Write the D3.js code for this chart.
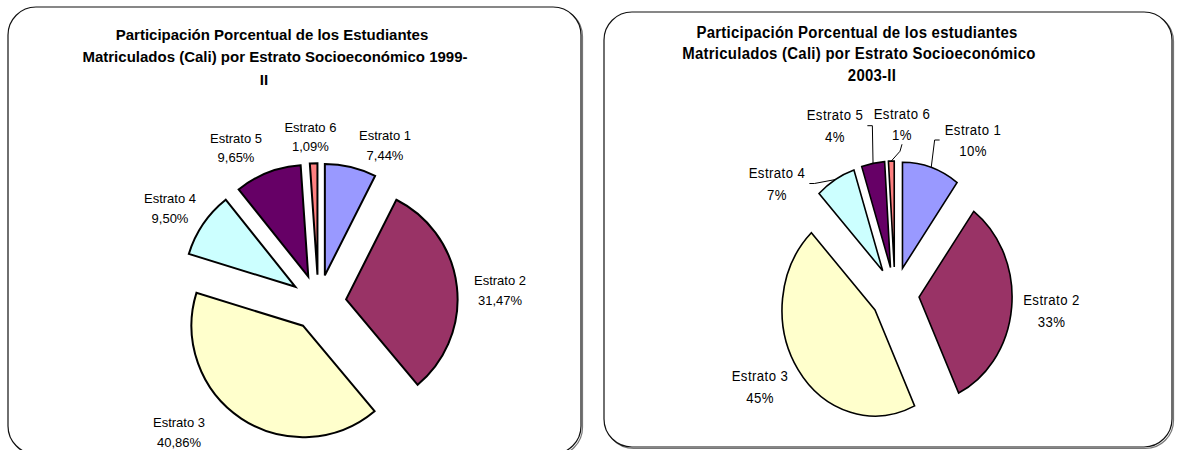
<!DOCTYPE html>
<html><head><meta charset="utf-8">
<script src="https://cdn.jsdelivr.net/npm/d3@7/dist/d3.min.js"></script>
<style>body{margin:0;background:#fff;} svg{display:block;}</style>
</head><body>
<svg id="chart" width="1179" height="450"></svg>
<script>
// ---------- data ----------
const categories = ["Estrato 1", "Estrato 2", "Estrato 3", "Estrato 4", "Estrato 5", "Estrato 6"];
const values1999 = [7.44, 31.47, 40.86, 9.50, 9.65, 1.09];
const values2003 = [10, 33, 45, 7, 4, 1];
const title1999 = ["Participación Porcentual de los Estudiantes",
                   "Matriculados (Cali) por Estrato Socioeconómico 1999-",
                   "II"];
const title2003 = ["Participación Porcentual de los estudiantes",
                   "Matriculados (Cali) por Estrato Socioeconómico",
                   "2003-II"];
const sliceColors = ["#9999FF", "#993366", "#FFFFCC", "#CCFFFF", "#660066", "#FF8080"];
const leaders2003 = [true, false, false, true, true, true];

// ---------- layout (positions / styles) ----------
const FONT = "'Liberation Sans', Arial, Helvetica, sans-serif";
const color = d3.scaleOrdinal(categories, sliceColors);

const panels = [
  {
    values: values1999, title: title1999,
    fmt: v => d3.format(".2f")(v).replace(".", ",") + "%",
    box: {x: 8, y: 7, w: 573, h: 447, r: 28},
    cx: 318.4, cy: 302.5, rx: 111.5, ry: 111.5, explode: 0.25, stroke: 2,
    titleX: [272, 275, 264], titleY: [39.5, 62, 84.5], titleSize: 15, titleSX: 1, titleLS: 0,
    labelSize: 13, labelSX: 1, labelLS: 0, lineGap: 19.4,
    labelOffsets: [[66.6, -157], [181.6, -12], [-139.4, 130], [-148.4, -94.2], [-82.4, -154.5], [-8, -165.5]],
    leaders: null
  },
  {
    values: values2003, title: title2003,
    fmt: v => d3.format("d")(v) + "%",
    box: {x: 604, y: 12, w: 568, h: 435, r: 28},
    cx: 895, cy: 294.5, rx: 93, ry: 106, explode: 0.26, stroke: 1.6,
    titleX: [857, 859, 872], titleY: [37.5, 59, 80.5], titleSize: 17, titleSX: 0.88, titleLS: 0.3,
    labelSize: 15, labelSX: 0.88, labelLS: 0.5, lineGap: 21.5,
    labelOffsets: [[78, -154.5], [156.5, 16], [-135, 92], [-118, -111], [-60, -168.8], [7, -170.5]],
    leaders: leaders2003
  }
];

const svg = d3.select("#chart");

function addText(g, x, y, str, size, sx, ls, weight) {
  return g.append("text")
    .attr("transform", `translate(${x},${y}) scale(${sx},1)`)
    .attr("text-anchor", "middle")
    .attr("font-family", FONT)
    .attr("font-size", size)
    .attr("font-weight", weight || "normal")
    .attr("letter-spacing", ls)
    .attr("fill", "#000")
    .text(str);
}

panels.forEach(p => {
  const g = svg.append("g");
  const b = p.box;
  // panel frame with slight shadow
  g.append("rect").attr("x", b.x + 1.5).attr("y", b.y + 1.5).attr("width", b.w).attr("height", b.h)
    .attr("rx", b.r).attr("ry", b.r).attr("fill", "none").attr("stroke", "#777").attr("stroke-width", 1.2);
  g.append("rect").attr("x", b.x).attr("y", b.y).attr("width", b.w).attr("height", b.h)
    .attr("rx", b.r).attr("ry", b.r).attr("fill", "#fff").attr("stroke", "#111").attr("stroke-width", 1.2);

  // title
  p.title.forEach((line, i) => {
    addText(g, p.titleX[i], p.titleY[i], line, p.titleSize, p.titleSX, p.titleLS, "bold");
  });

  // pie
  const pie = d3.pie().sort(null).value(d => d.v).startAngle(0).endAngle(2 * Math.PI);
  const arcs = pie(categories.map((c, i) => ({c, v: p.values[i]})));
  const arc = d3.arc().innerRadius(0).outerRadius(p.ry);
  const sx = p.rx / p.ry;
  const offset = a => {
    const m = (a.startAngle + a.endAngle) / 2;
    return [p.cx + Math.sin(m) * p.explode * p.rx, p.cy - Math.cos(m) * p.explode * p.ry];
  };

  g.selectAll("path.slice").data(arcs).join("path")
    .attr("class", "slice")
    .attr("d", arc)
    .attr("transform", a => { const o = offset(a); return `translate(${o[0]},${o[1]}) scale(${sx},1)`; })
    .attr("fill", a => color(a.data.c))
    .attr("stroke", "#000")
    .attr("stroke-width", p.stroke)
    .attr("stroke-linejoin", "miter")
    .attr("vector-effect", "non-scaling-stroke");

  // labels
  arcs.forEach((a, i) => {
    const lx = p.cx + p.labelOffsets[i][0];
    const ly = p.cy + p.labelOffsets[i][1];
    const y1 = ly - p.lineGap / 2 + 0.36 * p.labelSize;
    const y2 = ly + p.lineGap / 2 + 0.36 * p.labelSize;
    const t1 = addText(g, lx, y1, a.data.c, p.labelSize, p.labelSX, p.labelLS);
    const t2 = addText(g, lx, y2, p.fmt(a.data.v), p.labelSize, p.labelSX, p.labelLS);

    if (p.leaders && p.leaders[i]) {
      const w = Math.max(t1.node().getComputedTextLength(), t2.node().getComputedTextLength()) * p.labelSX;
      const o = offset(a);
      const m = (a.startAngle + a.endAngle) / 2;
      const P = [o[0] + Math.sin(m) * p.rx, o[1] - Math.cos(m) * p.ry];
      let L, B;
      if (Math.abs(lx - P[0]) < w / 2) {
        L = [lx, ly + p.lineGap / 2 + 0.5 * p.labelSize + 2];
        B = [L[0] - 2, L[1] + 7];
      } else if (lx > P[0]) {
        L = [lx - w / 2 - 5, ly];
        B = [L[0] - 5, ly];
      } else {
        L = [lx + w / 2 + 4, ly];
        B = [L[0] + 5, ly];
      }
      g.append("path")
        .attr("d", d3.line()([L, B, P]))
        .attr("fill", "none")
        .attr("stroke", "#000")
        .attr("stroke-width", 1);
    }
  });
});
</script>
</body></html>
